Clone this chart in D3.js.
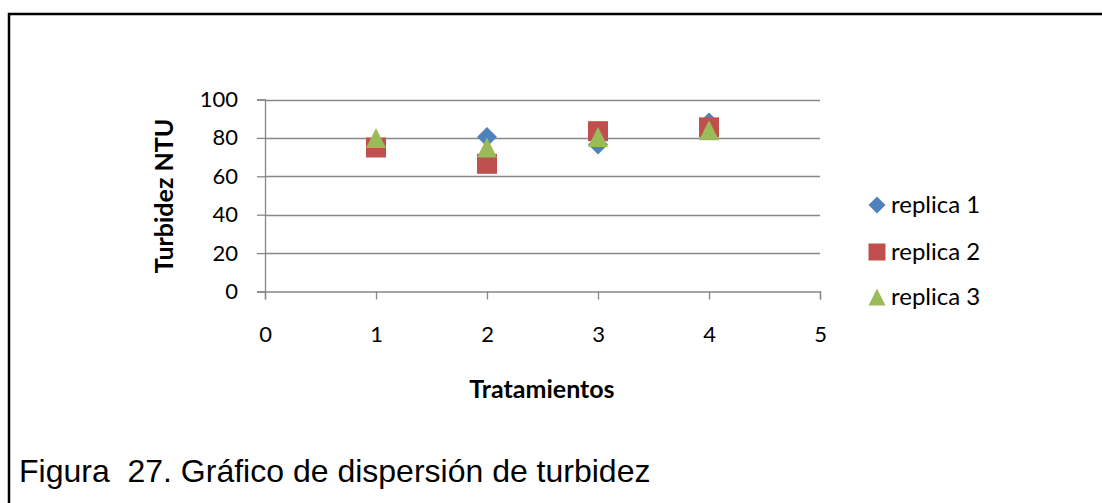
<!DOCTYPE html>
<html>
<head>
<meta charset="utf-8">
<script src="https://cdn.jsdelivr.net/npm/d3@7"></script>
<style>
  html, body { margin: 0; padding: 0; background: #fff; }
  svg { display: block; }
</style>
</head>
<body>
<svg id="chart" width="1102" height="503"></svg>
<script>
// Treatments on the x axis and turbidity (NTU) readings for each replica
const tratamientos = [1, 2, 3, 4];
const replica1 = [75, 80.5, 76.5, 88];
const replica2 = [75, 66.5, 83.5, 85.5];
const replica3 = [80, 75, 80.5, 84];
const seriesNames = ["replica 1", "replica 2", "replica 3"];
const xTicks = [0, 1, 2, 3, 4, 5];
const yTicks = [0, 20, 40, 60, 80, 100];

const series = [
  { name: seriesNames[0], values: replica1, shape: "diamond", color: "#4F81BD" },
  { name: seriesNames[1], values: replica2, shape: "square", color: "#C0504D" },
  { name: seriesNames[2], values: replica3, shape: "triangle", color: "#9BBB59" }
];

const svg = d3.select("#chart");
const labelFont = "Lato, 'Open Sans', sans-serif";

// Page frame (top and left rules)
svg.append("path")
  .attr("d", "M9,503 L9,14 L1102,14")
  .attr("fill", "none")
  .attr("stroke", "#000")
  .attr("stroke-width", 2.5);

const x = d3.scaleLinear().domain([0, 5]).range([265, 820]);
const y = d3.scaleLinear().domain([0, 100]).range([291.5, 99.5]);

const gridColor = "#878787";

// Horizontal gridlines
svg.append("g")
  .selectAll("line")
  .data(yTicks.filter(t => t > 0))
  .join("line")
  .attr("x1", x(0)).attr("x2", x(5))
  .attr("y1", d => Math.round(y(d)) + 0.5).attr("y2", d => Math.round(y(d)) + 0.5)
  .attr("stroke", gridColor).attr("stroke-width", 1.3);

// Y axis
const yAxis = svg.append("g")
  .attr("transform", `translate(${x(0)},0)`)
  .call(d3.axisLeft(y).tickValues(yTicks).tickSize(8).tickPadding(19).tickFormat(d3.format("d")));
yAxis.select(".domain").attr("stroke", gridColor).attr("stroke-width", 1.3);
yAxis.selectAll(".tick line").attr("stroke", gridColor).attr("stroke-width", 1.3);
yAxis.selectAll(".tick text")
  .attr("font-family", labelFont).attr("font-size", 22).attr("fill", "#000");

// X axis
const xAxis = svg.append("g")
  .attr("transform", `translate(0,${y(0)})`)
  .call(d3.axisBottom(x).tickValues(xTicks).tickSize(8).tickPadding(27).tickFormat(d3.format("d")));
xAxis.select(".domain").attr("stroke", gridColor).attr("stroke-width", 1.3);
xAxis.selectAll(".tick line").attr("stroke", gridColor).attr("stroke-width", 1.3);
xAxis.selectAll(".tick text")
  .attr("font-family", labelFont).attr("font-size", 22).attr("fill", "#000");

// Axis titles
svg.append("text")
  .attr("x", 542).attr("y", 388)
  .attr("text-anchor", "middle").attr("dominant-baseline", "central")
  .attr("font-family", labelFont).attr("font-weight", "bold").attr("font-size", 25)
  .text("Tratamientos");

svg.append("text")
  .attr("transform", "translate(163,196) rotate(-90)")
  .attr("text-anchor", "middle").attr("dominant-baseline", "central")
  .attr("font-family", labelFont).attr("font-weight", "bold").attr("font-size", 25)
  .text("Turbidez NTU");

// Marker shapes, centred on the origin
function markerPath(shape, s) {
  const h = s / 2;
  if (shape === "diamond") return `M0,${-h} L${h},0 L0,${h} L${-h},0 Z`;
  if (shape === "square") return `M${-h},${-h} L${h},${-h} L${h},${h} L${-h},${h} Z`;
  return `M0,${-h} L${h},${h} L${-h},${h} Z`;
}

// Data markers, one group per replica
series.forEach(s => {
  svg.append("g")
    .selectAll("path")
    .data(tratamientos.map((t, i) => ({ t, v: s.values[i] })))
    .join("path")
    .attr("transform", d => `translate(${x(d.t)},${y(d.v)})`)
    .attr("d", markerPath(s.shape, 20))
    .attr("fill", s.color);
});

// Legend
const legend = svg.append("g");
const legendY = [205, 252, 297];
series.forEach((s, i) => {
  legend.append("path")
    .attr("transform", `translate(877,${legendY[i]})`)
    .attr("d", markerPath(s.shape, 17))
    .attr("fill", s.color);
  legend.append("text")
    .attr("x", 891).attr("y", legendY[i] - 2)
    .attr("dominant-baseline", "central")
    .attr("font-family", labelFont).attr("font-size", 24).attr("fill", "#000")
    .text(s.name);
});

// Figure caption
svg.append("text")
  .attr("x", 19).attr("y", 482)
  .attr("font-family", "'Liberation Sans', Arial, sans-serif").attr("font-size", 32)
  .attr("fill", "#000")
  .text("Figura  27. Gráfico de dispersión de turbidez")
  .style("white-space", "pre");
</script>
</body>
</html>
